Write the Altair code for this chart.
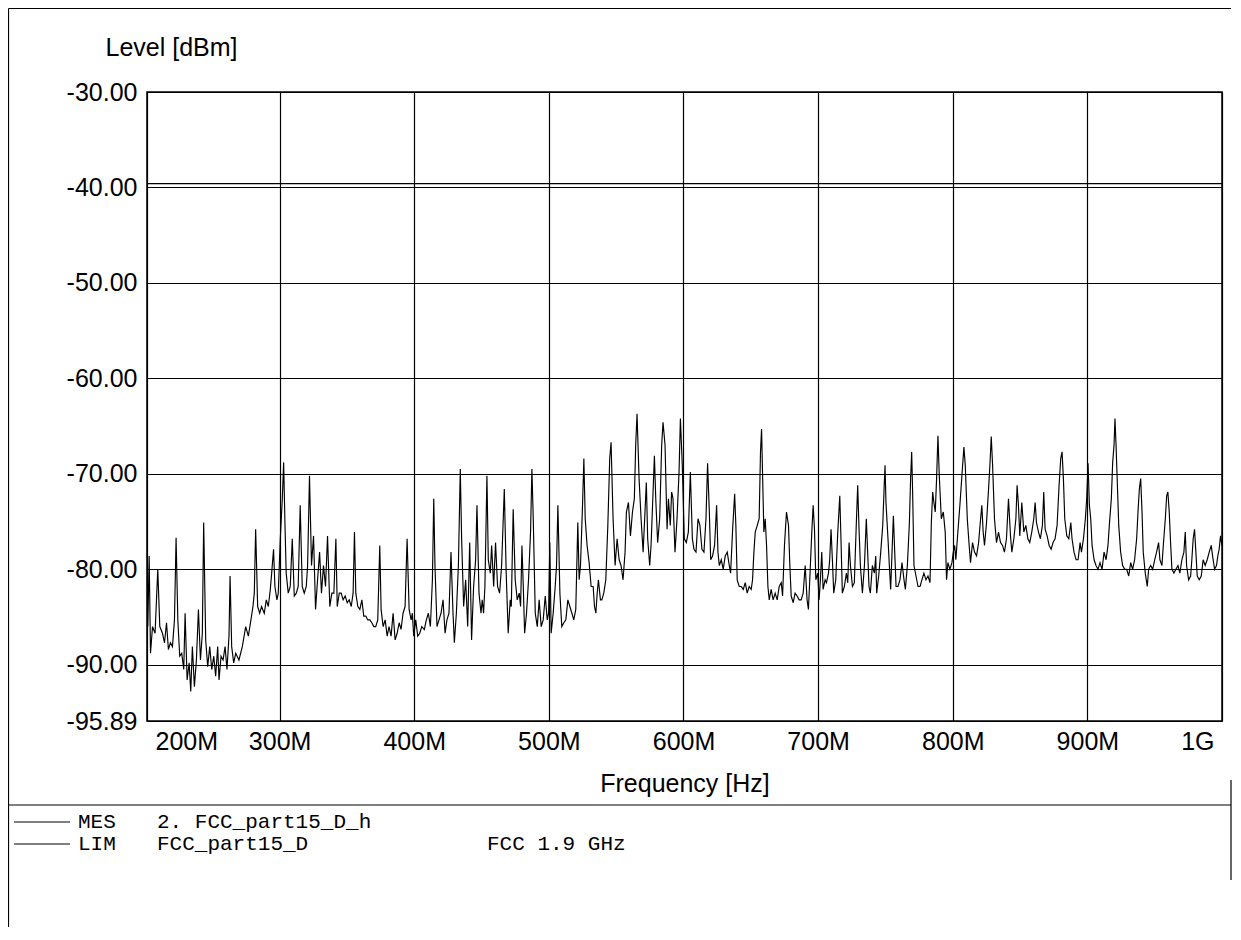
import altair as alt
import pandas as pd

# ---- measured trace (MES), frequency in MHz, level in dBm ----
band1_freq = [202.1, 203.1, 204.1, 205.6, 207.5, 209.5, 211.0, 213.0, 214.5, 216.0,
              217.4, 218.9, 220.4, 221.9, 223.1, 224.4, 225.8, 227.3, 228.8, 229.8,
              231.3, 232.8, 234.0, 235.2, 236.7, 238.2, 239.7, 241.2, 242.6, 243.6,
              245.1, 246.6, 248.1, 249.6, 251.1, 252.5, 254.0, 255.0, 256.5, 258.0,
              259.5, 260.9, 262.4, 263.2, 264.4, 265.9, 267.4, 269.8, 272.3, 274.8,
              276.8, 278.7, 280.2, 281.2, 282.2, 283.7, 285.2, 286.6, 288.6, 290.1,
              291.6, 293.1, 294.1, 295.5, 296.5, 298.0, 299.0, 300.5, 302.0, 303.0,
              304.0, 304.9, 306.4, 307.9, 309.4, 310.9, 312.4, 313.8, 315.3, 316.8,
              318.3, 319.8, 320.8, 322.2, 323.7, 325.2, 326.7, 328.2, 329.7, 331.1,
              332.6, 334.1, 335.6]
band1_level = [-86.0, -78.6, -88.8, -86.0, -86.7, -80.0, -86.0, -86.7, -87.7, -85.6,
               -88.4, -87.7, -88.1, -85.3, -76.7, -85.3, -89.1, -88.8, -90.5, -84.6,
               -91.6, -89.8, -92.8, -88.1, -92.3, -89.5, -84.2, -89.5, -86.7, -75.1,
               -87.4, -90.2, -88.1, -90.5, -89.1, -91.2, -88.1, -91.6, -89.1, -89.5,
               -88.1, -90.5, -87.0, -80.7, -88.1, -89.8, -88.8, -89.5, -88.1, -86.0,
               -87.0, -85.3, -83.9, -82.5, -75.8, -83.9, -84.6, -83.9, -84.6, -83.2,
               -83.9, -82.1, -80.4, -77.9, -81.8, -83.2, -82.5, -76.8, -72.6, -68.8,
               -75.4, -80.4, -82.5, -81.8, -76.8, -82.8, -82.5, -81.8, -73.3, -81.8,
               -82.5, -81.8, -79.6, -70.2, -79.6, -76.5, -84.2, -81.1, -78.2, -82.5,
               -79.6, -81.8, -76.5]

band2_freq = [337.3, 338.8, 340.3, 341.8, 342.8, 344.3, 345.7, 347.2, 348.7, 350.2,
              351.7, 353.2, 354.6, 355.6, 356.6, 358.1, 359.6, 361.1, 362.5, 364.0,
              365.5, 367.0, 368.5, 370.0, 371.4, 372.9, 374.4, 375.4, 376.9, 378.4,
              379.9, 381.3, 382.8, 384.3, 385.8, 387.3, 388.8, 390.2, 391.7, 393.2,
              394.7, 396.2, 397.7, 398.6, 399.6, 401.1, 402.6, 404.1, 405.6, 407.5,
              409.0, 410.5, 412.0, 413.5, 414.5, 415.4, 416.9, 418.4, 419.9, 421.4,
              422.9, 424.3, 425.8, 427.3, 428.8, 429.8, 431.3, 432.8, 434.2, 435.2,
              436.7, 438.2, 439.7, 441.2, 442.6, 444.1, 445.6, 446.6, 448.1, 449.6,
              450.5, 451.5, 452.5, 454.0, 455.0, 456.5, 457.5, 459.0, 460.4, 461.9,
              463.4, 464.9, 466.9, 468.3, 469.8, 471.3]
band2_level = [-83.9, -82.5, -82.5, -76.8, -83.9, -82.5, -82.5, -83.2, -82.8, -83.5,
               -83.2, -83.9, -82.5, -76.1, -82.5, -83.9, -84.2, -83.2, -84.9, -84.9,
               -85.3, -85.3, -85.6, -86.0, -86.0, -85.3, -77.5, -84.2, -86.0, -85.3,
               -87.0, -86.0, -87.0, -84.6, -87.4, -86.7, -85.6, -86.3, -84.6, -83.9,
               -76.8, -84.2, -85.3, -84.6, -87.0, -85.3, -87.0, -86.7, -86.0, -86.3,
               -85.3, -84.6, -86.0, -81.1, -72.6, -79.6, -86.0, -85.3, -84.6, -83.2,
               -86.7, -85.3, -84.6, -78.2, -84.6, -87.7, -84.6, -79.6, -69.5, -76.8,
               -83.9, -81.1, -86.0, -77.2, -87.4, -81.8, -79.0, -73.3, -82.5, -84.6,
               -83.2, -84.6, -81.8, -70.2, -79.0, -80.4, -77.5, -81.8, -77.2, -81.8,
               -82.5, -79.6, -71.6, -80.4, -86.7, -83.2]

band3_freq = [472.1, 473.5, 475.0, 476.5, 478.0, 479.0, 480.0, 481.0, 482.0, 483.4,
              484.9, 486.4, 487.4, 488.4, 489.9, 491.4, 492.8, 494.3, 495.8, 497.3,
              498.8, 499.8, 500.7, 501.7, 503.2, 504.7, 505.7, 506.7, 508.2, 509.6,
              511.1, 512.6, 514.1, 515.6, 517.1, 518.5, 520.0, 521.5, 522.5, 523.5,
              525.0, 526.0, 527.0, 528.4, 529.9, 531.4, 532.9, 533.9, 534.9, 535.9,
              536.8, 538.3, 539.3, 540.8, 542.3, 543.8, 545.2, 546.2, 547.7, 549.2,
              550.7, 552.2, 553.6, 555.1, 556.6, 557.6, 559.1, 560.6, 562.1, 563.5,
              564.5, 565.5, 567.0, 568.5, 570.0, 571.4, 572.4, 573.4, 574.9, 575.9,
              577.4, 578.4, 579.4, 580.8, 582.3, 583.8, 584.8, 586.3, 587.8, 588.8,
              590.2, 591.2, 592.2, 593.7, 595.2, 596.7, 597.7, 599.1, 600.6, 602.1,
              603.6, 605.1, 606.6]
band3_level = [-83.9, -73.7, -81.1, -83.2, -82.5, -83.9, -77.5, -81.8, -86.7, -84.6,
               -81.1, -76.1, -69.5, -74.7, -84.6, -86.0, -83.2, -86.0, -85.3, -82.8,
               -85.3, -84.6, -77.2, -86.7, -84.6, -81.8, -79.6, -73.3, -82.5, -86.0,
               -85.6, -85.3, -83.2, -83.9, -84.6, -85.3, -84.2, -75.1, -81.1, -79.6,
               -73.3, -68.4, -74.7, -77.5, -79.3, -81.8, -81.8, -83.9, -84.6, -82.5,
               -81.1, -83.2, -83.2, -82.5, -81.1, -75.4, -68.4, -66.7, -74.7, -79.6,
               -76.8, -79.0, -79.6, -81.1, -78.2, -74.0, -73.0, -76.5, -74.0, -72.6,
               -67.0, -63.7, -70.5, -74.7, -78.2, -74.0, -70.9, -76.8, -79.6, -77.5,
               -71.9, -68.1, -72.6, -77.2, -74.7, -67.0, -64.6, -67.0, -75.8, -72.6,
               -75.4, -71.9, -72.6, -78.2, -74.7, -69.8, -64.2, -69.1, -76.8, -77.2,
               -76.1, -69.8, -76.8]

band4_freq = [607.8, 609.3, 610.8, 612.2, 613.7, 615.2, 616.7, 617.9, 619.2, 620.2,
              621.6, 623.1, 624.6, 625.6, 626.6, 628.1, 629.5, 631.0, 632.5, 634.0,
              635.0, 636.5, 638.0, 638.9, 639.9, 641.4, 642.9, 644.4, 645.9, 647.3,
              648.8, 650.3, 651.3, 652.3, 653.3, 654.8, 656.2, 657.2, 658.0, 658.7,
              659.7, 660.7, 661.7, 662.7, 663.7, 665.1, 666.6, 668.1, 669.6, 671.1,
              672.6, 673.6, 675.0, 676.5, 678.0, 679.0, 680.0, 681.5, 682.9, 684.4,
              685.9, 687.4, 688.9, 690.4, 691.8, 692.8, 693.8, 695.3, 696.3, 697.3,
              698.3, 699.7, 700.7, 701.7, 702.7, 703.7, 705.2, 706.2, 707.7, 708.6,
              709.6, 710.6, 711.6, 713.1, 714.6, 716.1, 717.1, 718.0, 719.5, 721.0,
              722.0, 723.0, 724.0, 725.5, 726.9, 728.4, 729.4, 730.4, 731.4, 732.9,
              734.4, 735.8, 736.8, 737.8, 738.8, 740.3, 741.8, 742.8]
band4_level = [-77.9, -78.2, -74.7, -75.4, -77.9, -78.2, -74.7, -68.9, -74.0, -79.0,
               -78.6, -77.5, -73.3, -78.2, -79.6, -79.0, -80.0, -78.6, -78.2, -79.6,
               -80.4, -75.8, -72.1, -75.4, -81.1, -81.8, -81.8, -82.1, -81.4, -82.5,
               -81.8, -82.1, -81.1, -78.2, -76.1, -75.4, -74.7, -67.7, -65.3, -69.8,
               -76.1, -74.7, -77.5, -81.8, -83.2, -82.1, -83.2, -82.5, -83.2, -81.8,
               -81.4, -82.8, -77.5, -74.0, -75.4, -79.6, -82.8, -83.5, -82.5, -82.8,
               -83.2, -83.2, -82.5, -79.6, -83.2, -84.2, -81.1, -76.1, -73.3, -75.8,
               -81.1, -80.4, -83.2, -81.1, -78.2, -82.1, -81.1, -81.4, -80.4, -79.0,
               -75.8, -79.0, -82.5, -81.1, -76.1, -72.3, -77.5, -82.5, -81.8, -80.4,
               -81.4, -77.2, -79.6, -81.8, -81.4, -75.1, -71.2, -75.8, -79.6, -82.5,
               -79.6, -74.7, -78.2, -81.8, -82.5, -79.6, -80.4, -78.6]

band5_freq = [743.5, 745.0, 746.5, 748.0, 749.0, 749.7, 750.4, 751.9, 752.9, 753.9,
              754.9, 755.9, 756.9, 757.9, 759.3, 760.8, 762.3, 763.8, 764.8, 766.3,
              767.8, 768.7, 769.5, 770.2, 771.2, 772.7, 774.2, 775.7, 777.1, 778.6,
              780.1, 781.6, 783.1, 784.1, 785.1, 786.0, 787.0, 788.0, 789.0, 790.0,
              791.5, 793.0, 794.4, 795.4, 796.4, 797.9, 799.4, 800.4, 801.4, 802.3,
              803.8, 805.3, 806.8, 808.3, 809.3, 810.8, 812.2, 813.2, 814.7, 816.2,
              817.7, 819.2, 820.7, 821.6, 822.6, 823.6, 825.1, 826.6, 827.6, 828.6,
              829.6, 831.0, 832.5, 834.0, 835.5, 837.0, 838.4, 839.9, 841.4, 842.9,
              843.9, 845.4, 846.9, 847.8, 848.8, 849.8, 851.3, 852.8, 854.3, 855.8,
              857.2, 858.7, 860.2, 861.2, 862.2, 863.7, 865.1, 866.6, 867.6, 868.6,
              870.1, 871.6, 873.1, 874.5, 876.0, 877.5, 879.0]
band5_level = [-82.5, -80.7, -78.2, -75.4, -71.6, -69.1, -73.0, -76.8, -79.6, -82.1,
               -78.2, -74.4, -78.2, -81.8, -81.8, -81.1, -79.3, -81.1, -82.1, -79.6,
               -75.1, -70.5, -67.7, -71.9, -79.6, -80.7, -81.8, -81.8, -81.1, -80.4,
               -81.1, -80.7, -81.4, -75.1, -71.9, -73.0, -74.0, -70.5, -66.0, -70.2,
               -74.7, -74.0, -76.1, -81.1, -79.3, -80.0, -79.3, -78.2, -77.5, -79.0,
               -76.1, -73.3, -70.2, -67.2, -69.1, -74.7, -77.5, -79.3, -77.2, -78.2,
               -78.6, -77.2, -74.7, -73.3, -76.1, -77.5, -75.1, -71.6, -69.1, -66.1,
               -69.1, -74.7, -77.2, -76.1, -77.2, -77.5, -78.2, -76.8, -72.6, -76.5,
               -78.2, -76.8, -74.7, -71.2, -73.3, -76.5, -73.0, -76.1, -75.4, -76.8,
               -77.2, -76.1, -74.7, -73.0, -75.1, -76.1, -76.8, -75.4, -71.9, -75.8,
               -76.5, -77.5, -77.9, -77.2, -76.8, -75.4, -71.2]

band6_freq = [880.2, 881.2, 882.2, 883.2, 884.7, 886.2, 887.7, 888.6, 890.1, 891.6,
              893.1, 894.6, 895.6, 897.1, 898.5, 899.5, 900.5, 901.5, 902.5, 903.5,
              905.0, 906.4, 907.9, 909.4, 910.9, 912.4, 913.9, 915.3, 916.3, 917.8,
              918.8, 919.8, 920.5, 921.3, 922.3, 923.3, 924.7, 926.2, 927.7, 929.2,
              930.7, 932.2, 933.6, 935.1, 936.6, 937.6, 938.6, 939.6, 940.6, 941.5,
              943.0, 944.5, 945.5, 947.0, 948.5, 950.0, 951.4, 952.9, 953.9, 955.4,
              956.4, 957.9, 958.9, 959.8, 960.8, 961.8, 962.8, 964.3, 965.8, 967.3,
              968.7, 970.2, 971.7, 972.7, 973.7, 975.2, 976.7, 977.6, 978.6, 979.6,
              980.6, 981.6, 983.1, 984.6, 986.0, 987.5, 989.0, 990.5, 992.0, 993.0,
              994.5, 995.9, 996.9, 997.9, 998.9, 999.9]
band6_level = [-68.4, -67.7, -70.5, -74.7, -76.5, -76.8, -75.1, -76.8, -78.2, -79.0,
               -79.0, -77.2, -78.2, -76.8, -74.7, -72.6, -68.9, -73.3, -74.7, -77.5,
               -79.0, -79.6, -80.0, -79.3, -80.0, -78.2, -79.0, -77.5, -75.4, -72.6,
               -68.8, -67.0, -64.2, -67.0, -71.2, -75.4, -78.2, -79.6, -80.0, -80.0,
               -80.7, -79.3, -80.0, -79.0, -76.8, -74.0, -71.6, -70.5, -74.0, -78.2,
               -80.4, -81.8, -80.0, -79.6, -80.0, -79.0, -78.2, -77.2, -79.0, -79.6,
               -77.5, -74.7, -72.3, -71.9, -74.0, -77.2, -80.0, -80.4, -80.0, -79.6,
               -80.4, -79.0, -78.2, -76.1, -79.6, -81.1, -80.7, -79.0, -76.8, -75.8,
               -78.2, -80.7, -81.1, -80.7, -79.0, -79.6, -79.0, -78.2, -77.5, -78.6,
               -80.0, -79.6, -78.6, -77.9, -76.5, -77.5]

# ---- limit line (LIM) ----
limit_freq = [201.5, 1000.0]
limit_level = [-39.6, -39.6]

# ---- axes ----
x_ticks = [201.5, 300, 400, 500, 600, 700, 800, 900, 1000]
y_ticks = [-95.89, -90, -80, -70, -60, -50, -40, -30]

# ---- legend texts ----
mes_tag, mes_name = "MES", "2. FCC_part15_D_h"
lim_tag, lim_name, lim_note = "LIM", "FCC_part15_D", "FCC 1.9 GHz"

freq_mhz = band1_freq + band2_freq + band3_freq + band4_freq + band5_freq + band6_freq
level_dbm = band1_level + band2_level + band3_level + band4_level + band5_level + band6_level
n = min(len(freq_mhz), len(level_dbm))
trace = pd.DataFrame({"f": freq_mhz[:n], "L": level_dbm[:n]})
limit = pd.DataFrame({"f": limit_freq, "L": limit_level})
one = pd.DataFrame({"k": [0]})

FONT = "Liberation Sans"
MONO = "Liberation Mono"

x_scale = alt.Scale(domain=[201.5, 1000], nice=False, zero=False)
y_scale = alt.Scale(domain=[-95.89, -30], nice=False, zero=False)

x_axis = alt.Axis(
    values=x_ticks,
    labelExpr="datum.value < 250 ? '200M' : (datum.value >= 1000 ? '1G' : datum.value + 'M')",
    title="Frequency [Hz]",
    grid=True, gridColor="black", gridWidth=1.2, gridOpacity=1,
    ticks=False, domain=False,
    labelFont=FONT, labelFontSize=25, labelColor="black", labelPadding=8,
    labelFlush=True, labelFlushOffset=-8,
    titleFont=FONT, titleFontSize=25, titleFontWeight="normal", titleColor="black",
    titleY=62, titleBaseline="middle",
)
y_axis = alt.Axis(
    values=y_ticks,
    labelExpr="replace(format(datum.value, '.2f'), '\u2212', '-')",
    title="Level [dBm]",
    grid=True, gridColor="black", gridWidth=1.2, gridOpacity=1,
    ticks=False, domain=False,
    labelFont=FONT, labelFontSize=25, labelColor="black", labelPadding=10,
    titleFont=FONT, titleFontSize=25, titleFontWeight="normal", titleColor="black",
    titleAngle=0, titleAlign="left", titleBaseline="middle", titleX=-42, titleY=-45,
)

trace_layer = alt.Chart(trace).mark_line(color="black", strokeWidth=1.15).encode(
    x=alt.X("f:Q", scale=x_scale, axis=x_axis),
    y=alt.Y("L:Q", scale=y_scale, axis=y_axis),
)
limit_layer = alt.Chart(limit).mark_line(color="black", strokeWidth=1.4).encode(
    x=alt.X("f:Q", scale=x_scale),
    y=alt.Y("L:Q", scale=y_scale),
)


def txt(s, x, y):
    return alt.Chart(one).mark_text(
        font=MONO, fontSize=21, align="left", baseline="middle", color="black"
    ).encode(x=alt.value(x), y=alt.value(y), text=alt.value(s))


def hline(x1, x2, y, w=1.2):
    return alt.Chart(one).mark_rule(color="black", strokeWidth=w).encode(
        x=alt.value(x1), x2=alt.value(x2), y=alt.value(y))


def vline(x, y1, y2, w=1.2):
    return alt.Chart(one).mark_rule(color="black", strokeWidth=w).encode(
        x=alt.value(x), y=alt.value(y1), y2=alt.value(y2))


layers = [
    trace_layer, limit_layer,
    # frame
    hline(-138.5, 1084, -83.5), vline(-138.5, -83.5, 835), hline(-138.5, 1084, 713),
    vline(1084, 688, 788),
    # legend
    hline(-133, -77, 730, 1), hline(-133, -77, 752, 1),
    txt(mes_tag, -69, 730), txt(mes_name, 10, 730),
    txt(lim_tag, -69, 752), txt(lim_name, 10, 752), txt(lim_note, 340, 752),
]

chart = alt.layer(*layers).properties(
    width=1075, height=629,
    autosize=alt.AutoSizeParams(type="none"),
    padding={"left": 139, "top": 84, "right": 10, "bottom": 207},
    background="white",
).configure_view(stroke="black", strokeWidth=1.5)

chart.save("out.html", embed_options={"renderer": "svg", "actions": False})
